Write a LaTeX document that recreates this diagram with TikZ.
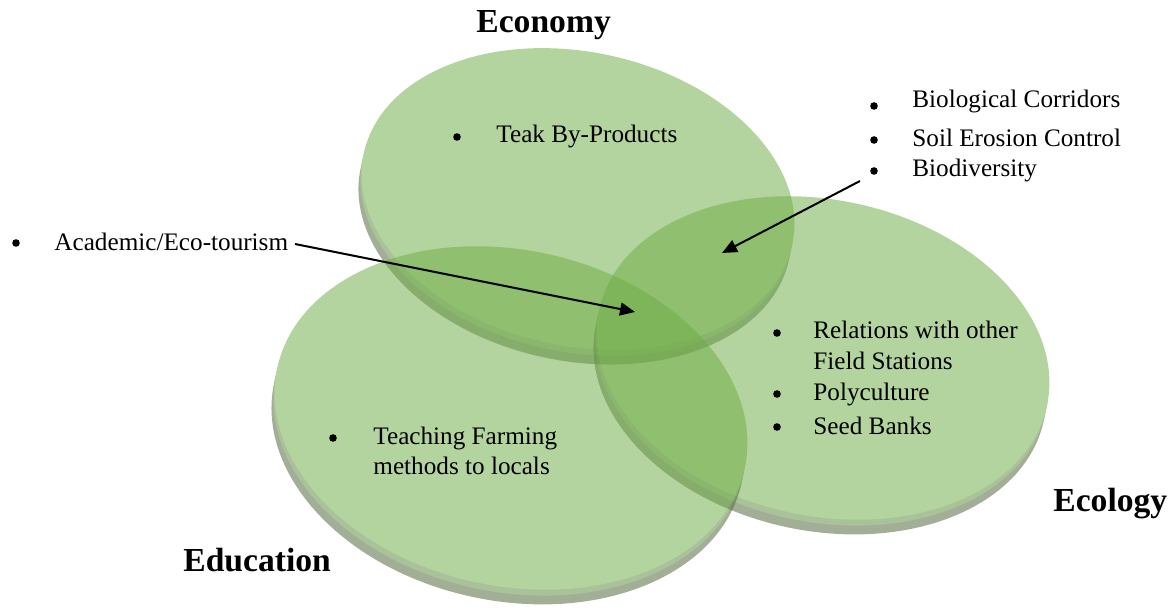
\documentclass[tikz,border=0pt]{standalone}
\usepackage{fontspec}
\setmainfont{Liberation Serif}
\usetikzlibrary{positioning,arrows.meta}
\definecolor{facegreen}{RGB}{112,173,71}
\definecolor{lipgreen}{RGB}{92,140,62}
\definecolor{rimgreen}{RGB}{80,104,56}
\tikzstyle{face}=[fill=facegreen]
\tikzstyle{lip}=[fill=lipgreen]
\tikzstyle{rim}=[fill=rimgreen]
\tikzstyle{item}=[anchor=base west, inner sep=0pt, font=\rmfamily\fontsize{12.6}{15}\selectfont]
\tikzstyle{dot}=[circle, fill=black, inner sep=0pt, minimum size=3.8pt]
\tikzstyle{title}=[anchor=base west, inner sep=0pt, font=\rmfamily\fontsize{16.8}{20}\selectfont\bfseries]
\tikzstyle{pointer}=[line width=1pt, -{Triangle[length=7.5pt,width=6.5pt]}]

\begin{document}
\begin{tikzpicture}[x=0.5pt,y=-0.5pt]
\useasboundingbox (0,0) rectangle (1173,613);
% economy disc
\begin{scope}[transparency group, opacity=0.53]
\fill [rim, rotate around={-12:(578,199)}] (578,214) ellipse (219 and 147);
\fill [lip, rotate around={-12:(578,199)}] (578,205) ellipse (219 and 147);
\fill [face, rotate around={-12:(578,199)}] (578,199) ellipse (219 and 147);
\end{scope}
% ecology disc
\begin{scope}[transparency group, opacity=0.53]
\fill [rim, rotate around={-12:(823,358)}] (823,373) ellipse (229 and 158);
\fill [lip, rotate around={-12:(823,358)}] (823,364) ellipse (229 and 158);
\fill [face, rotate around={-12:(823,358)}] (823,358) ellipse (229 and 158);
\end{scope}
% education disc
\begin{scope}[transparency group, opacity=0.53]
\fill [rim, rotate around={-12:(511,418)}] (511,433) ellipse (239 and 168);
\fill [lip, rotate around={-12:(511,418)}] (511,424) ellipse (239 and 168);
\fill [face, rotate around={-12:(511,418)}] (511,418) ellipse (239 and 168);
\end{scope}
% titles
\node (economy) [title] at (476,33) {Economy};
\node (ecology) [title] at (1053,512) {Ecology};
\node (education) [title] at (183,572) {Education};
% economy items
\node (teakdot) [dot] at (457,137) {};
\node (teak) [item] at (496,143) {Teak By-Products};
% ecology items
\node (corrdot) [dot] at (874,106) {};
\node (corr) [item] at (912,108) {Biological Corridors};
\node (soildot) [dot] at (874,140) {};
\node (soil) [item] at (912,147) {Soil Erosion Control};
\node (biodot) [dot] at (874,171) {};
\node (bio) [item] at (912,177) {Biodiversity};
\node (reldot) [dot] at (777,333) {};
\node (rel) [item] at (813,339) {Relations with other};
\node (field) [item] at (813,370) {Field Stations};
\node (polydot) [dot] at (777,394) {};
\node (poly) [item] at (813,401) {Polyculture};
\node (seeddot) [dot] at (777,427) {};
\node (seed) [item] at (813,435) {Seed Banks};
% education items
\node (teachdot) [dot] at (333,438) {};
\node (teach) [item] at (373,445) {Teaching Farming};
\node (methods) [item] at (373,475) {methods to locals};
\node (acaddot) [dot] at (16,243) {};
\node (acad) [item] at (54,251) {Academic/Eco-tourism};
% pointers
\coordinate (acadtail) at (295,244);
\coordinate (acadtip) at (635,312);
\coordinate (biotail) at (860,181);
\coordinate (biotip) at (722,253);
\draw [pointer] (acadtail) -- (acadtip);
\draw [pointer] (biotail) -- (biotip);
\end{tikzpicture}
\end{document}
